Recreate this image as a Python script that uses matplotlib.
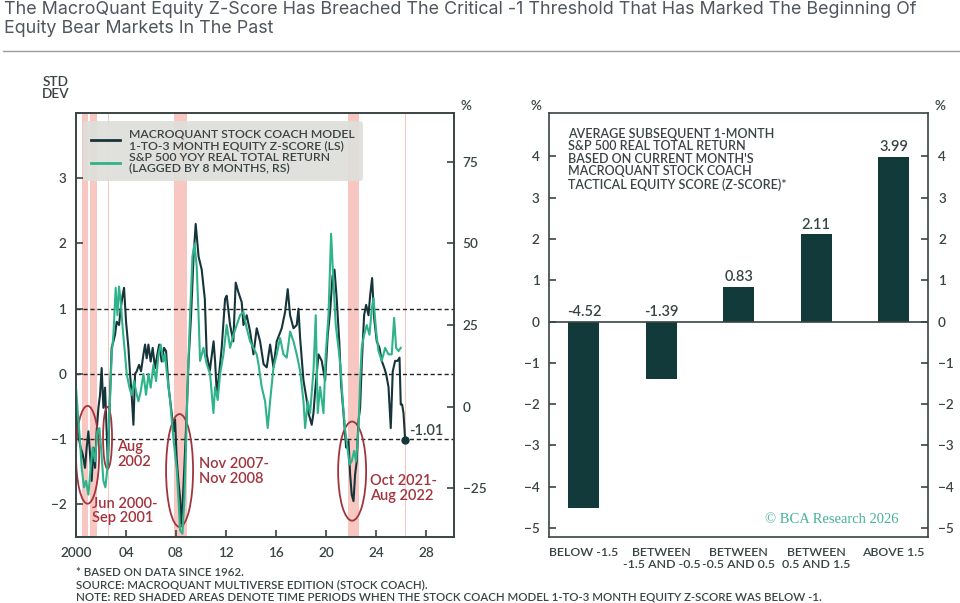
import matplotlib.pyplot as plt
from matplotlib.patches import Ellipse

# --- data ---
zscore_yr = [2000.00, 2000.12, 2000.37, 2000.53, 2000.72, 2000.85, 2000.99, 2001.12, 2001.25, 2001.39,
             2001.52, 2001.65, 2001.79, 2001.92, 2002.05, 2002.19, 2002.32, 2002.45, 2002.55, 2002.72,
             2002.85, 2002.99, 2003.12, 2003.25, 2003.44, 2003.57, 2003.73, 2003.84, 2004.00, 2004.19,
             2004.32, 2004.45, 2004.59, 2004.72, 2004.85, 2005.04, 2005.20, 2005.39, 2005.52, 2005.65,
             2005.79, 2005.97, 2006.13, 2006.32, 2006.50, 2006.65, 2006.85, 2007.04, 2007.20, 2007.40,
             2007.65, 2007.80, 2007.92, 2008.05, 2008.19, 2008.32, 2008.40, 2008.51, 2008.67, 2008.85,
             2009.00, 2009.20, 2009.40, 2009.57, 2009.80, 2010.05, 2010.30, 2010.45, 2010.70, 2011.00,
             2011.12, 2011.25, 2011.39, 2011.65, 2011.92, 2012.05, 2012.32, 2012.58, 2012.77, 2012.99,
             2013.25, 2013.39, 2013.65, 2013.92, 2014.19, 2014.45, 2014.72, 2015.00, 2015.25, 2015.52,
             2015.79, 2016.05, 2016.45, 2016.72, 2016.93, 2017.12, 2017.39, 2017.65, 2017.79, 2017.92,
             2018.19, 2018.45, 2018.59, 2018.85, 2018.99, 2019.12, 2019.39, 2019.65, 2019.92, 2020.13,
             2020.32, 2020.51, 2020.67, 2020.85, 2021.05, 2021.20, 2021.39, 2021.60, 2021.79, 2021.92,
             2022.05, 2022.19, 2022.32, 2022.45, 2022.59, 2022.72, 2022.85, 2023.04, 2023.20, 2023.39,
             2023.52, 2023.68, 2023.84, 2024.05, 2024.27, 2024.45, 2024.64, 2024.80, 2024.99, 2025.17,
             2025.33, 2025.52, 2025.71, 2025.87, 2025.97, 2026.08, 2026.19, 2026.32]
zscore = [-0.42, -0.88, -1.13, -1.23, -1.44, -1.13, -0.88, -1.23, -1.64, -1.13,
          -1.44, -0.88, -0.52, -0.32, 0.09, -0.52, -0.21, -0.88, -1.40, -0.32,
          0.40, 0.50, 0.60, 0.80, 0.75, 1.00, 1.21, 1.32, 0.80, 0.40,
          0.00, -0.32, -0.78, 0.00, 0.04, 0.14, 0.04, 0.30, 0.45, 0.24,
          0.45, 0.19, 0.40, 0.09, 0.30, 0.45, 0.19, 0.40, 0.35, -0.20,
          -0.60, -0.88, -0.70, -1.30, -1.65, -1.90, -2.30, -2.05, -1.40, -0.60,
          0.20, 0.90, 1.80, 2.30, 1.80, 1.60, 1.15, 0.30, 0.05, 0.50,
          0.20, -0.27, -0.10, 0.40, 1.15, 1.20, 0.75, 0.50, 1.40, 1.25,
          1.10, 0.75, 0.90, 0.65, 0.30, 0.70, 0.50, 0.15, 0.10, 0.45,
          0.10, 0.50, 0.70, 0.95, 1.30, 0.90, 0.70, 0.75, 1.00, 0.55,
          -0.10, -0.40, -0.60, -0.78, -0.60, -0.27, 0.30, 0.20, -0.10, 0.60,
          0.95, 1.50, 1.60, 1.15, 0.50, -0.16, -0.60, -1.13, -1.03, -1.54,
          -1.85, -1.95, -1.54, -1.34, -0.72, -0.52, 0.15, 0.90, 1.06, 0.90,
          1.20, 1.47, 0.86, 0.50, 0.40, 0.20, 0.10, 0.00, -0.20, -0.83,
          0.04, 0.20, 0.20, 0.25, -0.47, -0.47, -0.60, -1.01]

spx_yr = [2000.00, 2000.19, 2000.32, 2000.45, 2000.64, 2000.80, 2000.99, 2001.17, 2001.33, 2001.52,
          2001.70, 2001.87, 2002.00, 2002.19, 2002.35, 2002.51, 2002.67, 2002.85, 2002.99, 2003.17,
          2003.31, 2003.44, 2003.57, 2003.73, 2003.92, 2004.05, 2004.27, 2004.45, 2004.64, 2004.80,
          2004.99, 2005.17, 2005.39, 2005.60, 2005.79, 2005.97, 2006.19, 2006.40, 2006.59, 2006.77,
          2006.99, 2007.12, 2007.25, 2007.52, 2007.79, 2008.05, 2008.19, 2008.32, 2008.51, 2008.67,
          2008.80, 2008.93, 2009.12, 2009.31, 2009.47, 2009.65, 2009.79, 2009.92, 2010.19, 2010.45,
          2010.72, 2010.99, 2011.12, 2011.33, 2011.52, 2011.79, 2012.05, 2012.32, 2012.59, 2012.85,
          2013.12, 2013.39, 2013.65, 2013.92, 2014.19, 2014.45, 2014.59, 2014.85, 2015.12, 2015.33,
          2015.52, 2015.79, 2016.05, 2016.32, 2016.59, 2016.85, 2017.12, 2017.39, 2017.65, 2017.92,
          2018.19, 2018.32, 2018.53, 2018.72, 2018.99, 2019.17, 2019.33, 2019.52, 2019.79, 2019.97,
          2020.19, 2020.40, 2020.59, 2020.77, 2020.99, 2021.15, 2021.33, 2021.52, 2021.70, 2021.87,
          2022.05, 2022.24, 2022.40, 2022.59, 2022.72, 2022.85, 2023.04, 2023.25, 2023.47, 2023.65,
          2023.79, 2024.00, 2024.19, 2024.45, 2024.72, 2024.99, 2025.25, 2025.44, 2025.60, 2025.79,
          2025.97]
spx_ret = [5.8, -4.4, -10.6, -18.8, -24.8, -22.8, -27.0, -18.8, -12.6, -16.8,
           -7.6, -6.6, -12.6, -22.8, -24.8, -18.8, -2.4, 16.0, 22.0, 36.4,
           28.0, 36.8, 32.2, 24.0, 16.0, 10.0, 5.8, 3.6, 7.8, 4.6,
           1.6, 4.6, 10.0, 3.6, 10.0, 5.8, 12.8, 7.8, 16.0, 19.0,
           13.8, 16.0, 10.8, 2.0, -10.0, -19.0, -28.0, -38.0, -39.0, -28.0,
           -12.0, 8.0, 28.0, 46.0, 50.0, 43.0, 29.0, 14.0, 18.0, 13.0,
           10.0, -2.0, 6.0, 2.0, 10.0, 16.0, 25.0, 18.0, 22.0, 25.0,
           28.0, 29.0, 24.0, 20.0, 18.0, 16.0, 13.0, 6.0, 1.6, -6.6,
           1.6, 12.0, 16.0, 21.0, 16.0, 15.0, 23.0, 20.0, 16.0, 11.0,
           1.6, -6.6, 1.6, -2.0, 11.0, 28.0, -2.0, 6.0, -2.0, 16.0,
           28.0, 53.0, 38.0, 25.0, 18.0, 12.0, 1.6, -7.0, -12.6, -17.8,
           -16.8, -13.6, -16.8, -6.6, 8.0, 18.0, 22.0, 25.0, 22.0, 30.0,
           33.2, 23.0, 17.0, 14.0, 18.0, 16.0, 16.0, 27.2, 18.0, 17.0,
           18.0]

below_start = [2000.45, 2001.12, 2002.55, 2007.83, 2021.75, 2026.27]
below_end = [2000.99, 2001.65, 2002.63, 2008.88, 2022.62, 2026.35]

buckets = ['BELOW -1.5', 'BETWEEN\n-1.5 AND -0.5', 'BETWEEN\n-0.5 AND 0.5', 'BETWEEN\n0.5 AND 1.5', 'ABOVE 1.5']
avg_ret = [-4.52, -1.39, 0.83, 2.11, 3.99]

DARK = '#15353a'
GREEN = '#2fb38a'
RED = '#a2343d'
GREY = '#3a4444'

plt.rcParams['font.family'] = ['Lato', 'DejaVu Sans']
plt.rcParams['font.weight'] = 'semibold'

fig = plt.figure(figsize=(9.6, 6.03), dpi=100)

fig.text(0.004, 0.998, 'The MacroQuant Equity Z-Score Has Breached The Critical -1 Threshold That Has Marked The Beginning Of\n'
         'Equity Bear Markets In The Past', ha='left', va='top', fontsize=12.9, color='#50565e',
         family=['Inter', 'DejaVu Sans'], fontweight='normal', linespacing=1.12)
fig.add_artist(plt.Line2D([0.003, 1.0], [0.916, 0.916], color='#9a9a9a', lw=1))

# ---- left panel ----
ax = fig.add_axes([0.0792, 0.1095, 0.394, 0.703])
for s, e in zip(below_start, below_end):
    ax.axvspan(s, e, color='#f8c7c1', lw=0, zorder=0)
for lvl in [1, 0, -1]:
    ax.axhline(lvl, color='#222', lw=1, ls=(0, (3, 2)), zorder=1)
ax.plot(zscore_yr, zscore, color=DARK, lw=1.5, zorder=3)
ax.plot(zscore_yr[-1], zscore[-1], 'o', color=DARK, ms=5, zorder=4)
ax.text(zscore_yr[-1] + 0.3, zscore[-1] + 0.02, '%.2f' % zscore[-1], fontsize=10.5, color=GREY, va='bottom')

ax.set_xlim(2000, 2030.25)
ax.set_ylim(-2.5, 4)
ax.set_xticks([2000, 2004, 2008, 2012, 2016, 2020, 2024, 2028])
ax.set_xticklabels(['2000', '04', '08', '12', '16', '20', '24', '28'])
ax.set_yticks([-2, -1, 0, 1, 2, 3])

ax2 = ax.twinx()
ax2.plot(spx_yr, spx_ret, color=GREEN, lw=1.5, zorder=2)
ax2.set_ylim(-40, 90)
ax2.set_yticks([-25, 0, 25, 50, 75])

for el in [(2000.92, -1.24, 1.85, 1.5), (2002.52, -0.98, 0.72, 0.95),
           (2008.28, -1.48, 2.16, 1.73), (2022.08, -1.49, 2.24, 1.52)]:
    ax.add_patch(Ellipse(el[:2], el[2], el[3], fill=False, edgecolor=RED, lw=1.3, zorder=5))

ax.text(2003.3, -1.02, 'Aug\n2002', color=RED, fontsize=10.5, va='top', linespacing=1.05)
ax.text(2001.3, -1.88, 'Jun 2000-\nSep 2001', color=RED, fontsize=10.5, va='top', linespacing=1.05)
ax.text(2009.8, -1.28, 'Nov 2007-\nNov 2008', color=RED, fontsize=10.5, va='top', linespacing=1.05)
ax.text(2023.5, -1.54, 'Oct 2021-\nAug 2022', color=RED, fontsize=10.5, va='top', linespacing=1.05)

h1 = plt.Line2D([], [], color=DARK, lw=2)
h2 = plt.Line2D([], [], color=GREEN, lw=2)
leg = ax2.legend([h1, h2], ['MACROQUANT STOCK COACH MODEL\n1-TO-3 MONTH EQUITY Z-SCORE (LS)',
                            'S&P 500 YOY REAL TOTAL RETURN\n(LAGGED BY 8 MONTHS, RS)'],
                 loc='upper left', bbox_to_anchor=(0.01, 0.99), fontsize=8.8, frameon=True,
                 facecolor='#deded9', edgecolor='none', framealpha=0.92, handlelength=2.3,
                 labelspacing=0.05, borderpad=0.45, handletextpad=0.8)
for t in leg.get_texts():
    t.set_color(GREY)
    t.set_linespacing(1.0)
leg.get_frame().set_boxstyle('round', pad=0.2, rounding_size=0.3)

for a in [ax, ax2]:
    for sp in a.spines.values():
        sp.set_color(GREY)
        sp.set_linewidth(1.2)
    a.tick_params(direction='in', length=5, width=1.2, color=GREY, labelcolor=GREY, labelsize=9.8)
ax.tick_params(axis='x', pad=7)
ax.tick_params(axis='y', pad=7)
ax2.tick_params(axis='y', pad=6)
fig.text(0.058, 0.834, 'STD\nDEV', ha='center', va='bottom', fontsize=9.8, color=GREY, linespacing=1.0)
fig.text(0.485, 0.814, '%', ha='center', va='bottom', fontsize=9.8, color=GREY)

# ---- right panel ----
bx = fig.add_axes([0.572, 0.1095, 0.395, 0.703])
pos = range(len(buckets))
bx.bar(pos, avg_ret, width=0.4, color='#133a3b', zorder=2)
bx.axhline(0, color=GREY, lw=1.2, zorder=3)
for p, v in zip(pos, avg_ret):
    bx.text(p, max(v, 0) + 0.07, '%.2f' % v, ha='center', va='bottom', fontsize=10.5, color=GREY)
bx.set_xlim(-0.45, 4.45)
bx.set_ylim(-5.22, 5.05)
bx.set_xticks(list(pos))
bx.set_xticklabels(buckets, linespacing=1.1)
bx.set_yticks(range(-5, 5))
bx.tick_params(axis='x', length=0, pad=7, labelsize=8.9, labelcolor=GREY)
bx.tick_params(axis='y', direction='in', length=5, width=1.2, color=GREY, labelcolor=GREY,
               labelsize=9.8, left=True, right=True, labelleft=True, labelright=True, pad=7)
for sp in bx.spines.values():
    sp.set_color(GREY)
    sp.set_linewidth(1.2)
bx.text(0.05, 0.965, "AVERAGE SUBSEQUENT 1-MONTH\nS&P 500 REAL TOTAL RETURN\nBASED ON CURRENT MONTH'S\n"
        "MACROQUANT STOCK COACH\nTACTICAL EQUITY SCORE (Z-SCORE)*", transform=bx.transAxes,
        ha='left', va='top', fontsize=9, color=GREY, linespacing=1.05)
bx.text(0.745, 0.042, '\u00a9 BCA Research 2026', transform=bx.transAxes, ha='center', va='center',
        fontsize=10.5, color='#45b394', fontweight='normal', family=['Liberation Serif', 'DejaVu Serif'])
fig.text(0.558, 0.814, '%', ha='center', va='bottom', fontsize=9.8, color=GREY)
fig.text(0.979, 0.814, '%', ha='center', va='bottom', fontsize=9.8, color=GREY)

fig.text(0.079, 0.059, '* BASED ON DATA SINCE 1962.\nSOURCE: MACROQUANT MULTIVERSE EDITION (STOCK COACH).\n'
         'NOTE: RED SHADED AREAS DENOTE TIME PERIODS WHEN THE STOCK COACH MODEL 1-TO-3 MONTH EQUITY Z-SCORE WAS BELOW -1.',
         ha='left', va='top', fontsize=8.3, color=GREY, linespacing=1.1)

fig.savefig('out.png', dpi=100)
